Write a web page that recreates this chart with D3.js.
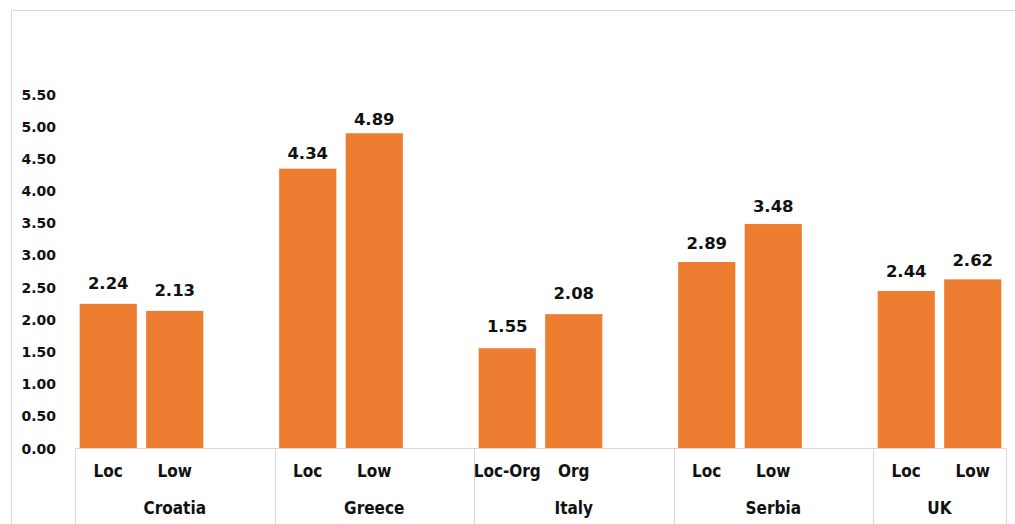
<!DOCTYPE html>
<html>
<head>
<meta charset="utf-8">
<script src="https://cdn.jsdelivr.net/npm/d3@7"></script>
<style>
  html, body { margin: 0; padding: 0; background: #fff; }
  svg { display: block; }
</style>
</head>
<body>
<svg id="chart" width="1015" height="524"></svg>
<script>
// Countries along the x axis, the treatment under each, and the mean scores
const categories = ["Croatia", "Greece", "Italy", "Serbia", "UK"];
const subcategories = [
  ["Loc", "Low"],
  ["Loc", "Low"],
  ["Loc-Org", "Org"],
  ["Loc", "Low"],
  ["Loc", "Low"]
];
const values = [
  [2.24, 2.13],
  [4.34, 4.89],
  [1.55, 2.08],
  [2.89, 3.48],
  [2.44, 2.62]
];
const yTicks = [0, 0.5, 1, 1.5, 2, 2.5, 3, 3.5, 4, 4.5, 5, 5.5];

const W = 1015, H = 524;
const svg = d3.select("#chart");
const barColor = "#ED7D31";
const lineColor = "#d9d9d9";
const labelFont = "'Liberation Sans Narrow', 'DejaVu Sans Condensed', 'Arial Narrow', sans-serif";
const numFont = "'DejaVu Sans', Verdana, sans-serif";

// Chart area frame (top and left edges visible)
svg.append("path")
  .attr("d", `M11.5,${H} V10.5 H${W}`)
  .attr("fill", "none")
  .attr("stroke", lineColor)
  .attr("stroke-width", 1);

// Each country owns its two bars plus an empty spacer slot (none after the last)
const slots = [];
const groupSpans = [];
categories.forEach((c, i) => {
  const first = slots.length;
  subcategories[i].forEach((s, j) => {
    slots.push({ key: `${c}|${s}`, group: c, sub: s, value: values[i][j] });
  });
  if (i < categories.length - 1) slots.push({ key: `${c}|spacer`, group: c, spacer: true });
  groupSpans.push({ name: c, first, last: slots.length });
});

const x = d3.scaleBand()
  .domain(slots.map(d => d.key))
  .range([75, 1006])
  .paddingInner(0.14)
  .paddingOuter(0.07);

const y = d3.scaleLinear().domain([0, 5.5]).range([448, 94]);
// Value labels sit above the bars, a little closer on taller bars
const yLabel = d3.scaleLinear().domain([0, 5.5]).range([428, 87]);

const step = x.step();
const x0 = x.range()[0];
const slotEdge = i => x0 + i * step;

// Y axis: tick labels only
const yAxis = d3.axisLeft(y)
  .tickValues(yTicks)
  .tickSize(0)
  .tickPadding(0)
  .tickFormat(d3.format(".2f"));
const gy = svg.append("g").attr("transform", "translate(56,0)").call(yAxis);
gy.select(".domain").remove();
gy.selectAll("text")
  .attr("font-family", numFont)
  .attr("font-weight", "bold")
  .attr("font-size", 14)
  .attr("fill", "#111")
  .attr("dy", "0.36em");

// Bars
const bars = slots.filter(d => !d.spacer);
svg.append("g").selectAll("rect")
  .data(bars)
  .join("rect")
  .attr("x", d => x(d.key))
  .attr("width", x.bandwidth())
  .attr("y", d => y(d.value))
  .attr("height", d => y(0) - y(d.value))
  .attr("fill", barColor);

// Value labels
svg.append("g").selectAll("text")
  .data(bars)
  .join("text")
  .attr("x", d => x(d.key) + x.bandwidth() / 2)
  .attr("y", d => yLabel(d.value))
  .attr("text-anchor", "middle")
  .attr("font-family", numFont)
  .attr("font-weight", "bold")
  .attr("font-size", 16.5)
  .attr("fill", "#111")
  .text(d => d3.format(".2f")(d.value));

// X axis baseline
svg.append("line")
  .attr("x1", x0).attr("x2", slotEdge(slots.length))
  .attr("y1", y(0) + 0.5).attr("y2", y(0) + 0.5)
  .attr("stroke", lineColor);

// Group dividers below the baseline
const edges = groupSpans.map(g => g.first).concat([slots.length]);
svg.append("g").selectAll("line")
  .data(edges)
  .join("line")
  .attr("x1", d => Math.round(slotEdge(d)) + 0.5)
  .attr("x2", d => Math.round(slotEdge(d)) + 0.5)
  .attr("y1", y(0))
  .attr("y2", H)
  .attr("stroke", lineColor);

// Treatment labels
svg.append("g").selectAll("text")
  .data(bars)
  .join("text")
  .attr("x", d => x(d.key) + x.bandwidth() / 2)
  .attr("y", 477)
  .attr("text-anchor", "middle")
  .attr("font-family", labelFont)
  .attr("font-weight", "bold")
  .attr("font-size", 17)
  .attr("fill", "#111")
  .text(d => d.sub);

// Country labels
svg.append("g").selectAll("text")
  .data(groupSpans)
  .join("text")
  .attr("x", d => (slotEdge(d.first) + slotEdge(d.last)) / 2)
  .attr("y", 514)
  .attr("text-anchor", "middle")
  .attr("font-family", labelFont)
  .attr("font-weight", "bold")
  .attr("font-size", 17)
  .attr("fill", "#111")
  .text(d => d.name);
</script>
</body>
</html>
